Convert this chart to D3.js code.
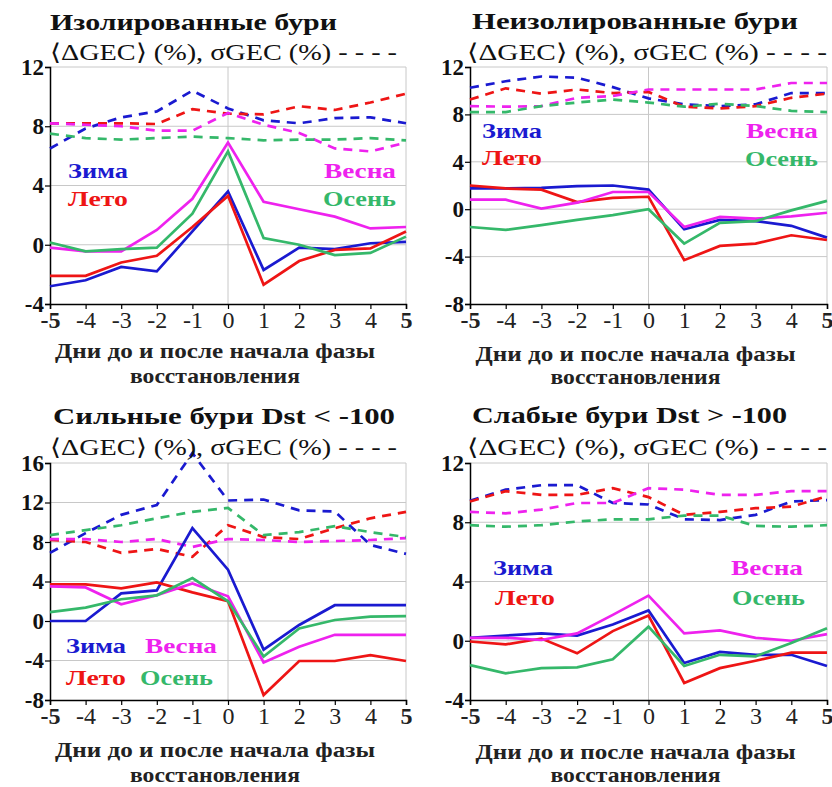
<!DOCTYPE html>
<html><head><meta charset="utf-8">
<script src="https://cdn.jsdelivr.net/npm/d3@7"></script>
</head><body style="margin:0">
<svg id="c" width="832" height="787"></svg>
<script>
const days = [-5,-4,-3,-2,-1,0,1,2,3,4,5];
const seasonNames = ["Зима","Лето","Весна","Осень"];
const seasonColors = ["#1a1ad0","#ee1515","#ee22ee","#35b86a"];
const panelTitles = ["Изолированные бури","Неизолированные бури","Сильные бури Dst < -100","Слабые бури Dst > -100"];
const subtitleText = "\u27E8\u0394GEC\u27E9 (%), \u03C3GEC (%) - - - -";
const xTitle1 = "Дни до и после начала фазы";
const xTitle2 = "восстановления";
const yTicks1 = [-4,0,4,8,12];
const yTicks2 = [-8,-4,0,4,8,12];
const yTicks3 = [-8,-4,0,4,8,12,16];
const yTicks4 = [-4,0,4,8,12];

// order in each: Зима, Лето, Весна, Осень
const isoMean = [
  [-2.8,-2.4,-1.5,-1.8,0.9,3.6,-1.7,-0.2,-0.3,0.1,0.2],
  [-2.1,-2.1,-1.2,-0.75,1.2,3.3,-2.7,-1.1,-0.35,-0.25,0.9],
  [-0.2,-0.45,-0.45,1.0,3.1,6.9,2.9,2.4,1.9,1.1,1.2],
  [0.15,-0.45,-0.3,-0.2,2.1,6.3,0.45,0,-0.7,-0.55,0.55]
];
const isoSigma = [
  [6.5,7.85,8.6,9.0,10.4,9.2,8.4,8.2,8.55,8.6,8.2],
  [8.2,8.2,8.2,8.15,9.15,8.85,8.8,9.35,9.1,9.6,10.2],
  [8.2,8.1,8.0,7.7,7.7,8.9,8.1,7.55,6.5,6.3,6.9],
  [7.5,7.2,7.1,7.2,7.3,7.2,7.05,7.1,7.1,7.2,7.05]
];
const nonIsoMean = [
  [1.75,1.75,1.8,1.95,2.0,1.65,-1.7,-0.9,-1.0,-1.4,-2.4],
  [2.0,1.75,1.65,0.6,0.95,1.05,-4.3,-3.1,-2.9,-2.2,-2.6],
  [0.8,0.8,0.05,0.55,1.45,1.45,-1.5,-0.65,-0.8,-0.6,-0.3],
  [-1.5,-1.75,-1.35,-0.9,-0.5,0,-2.9,-1.15,-1.0,-0.1,0.7]
];
const nonIsoSigma = [
  [10.25,10.8,11.2,11.1,10.3,9.35,8.85,8.7,8.85,9.8,9.8],
  [9.25,10.2,9.75,10.1,9.8,9.9,8.65,8.5,8.7,9.4,9.75],
  [8.7,8.65,8.7,9.4,9.55,10.1,10.1,10.1,10.1,10.65,10.65],
  [8.2,8.2,8.7,9.0,9.25,9.0,8.65,8.9,8.7,8.3,8.2]
];
const strongMean = [
  [0,0,2.8,3.1,9.4,5.2,-2.9,-0.4,1.6,1.6,1.6],
  [3.7,3.7,3.3,3.9,2.9,2.0,-7.5,-4.05,-4.05,-3.45,-4.05],
  [3.5,3.4,1.7,2.6,3.8,2.5,-4.2,-2.6,-1.4,-1.4,-1.4],
  [0.9,1.35,2.2,2.6,4.35,2.0,-3.6,-0.75,0.1,0.45,0.5]
];
const strongSigma = [
  [6.9,8.9,10.75,11.75,17.0,12.2,12.3,11.2,11.1,7.7,6.8],
  [8.2,8.0,6.9,7.3,6.5,9.7,8.5,8.3,9.4,10.4,11.05],
  [8.3,8.3,8.0,8.3,7.5,8.3,8.2,8.0,8.1,8.2,8.4],
  [8.7,9.2,9.7,10.4,11.05,11.45,8.7,9.0,9.6,9.0,8.5]
];
const weakMean = [
  [0.2,0.35,0.5,0.35,1.1,2.05,-1.5,-0.75,-0.95,-0.95,-1.7],
  [-0.05,-0.25,0.15,-0.85,0.65,1.7,-2.85,-1.85,-1.35,-0.8,-0.8],
  [0.2,0.2,0.05,0.5,1.75,3.05,0.5,0.7,0.2,0,0.45],
  [-1.65,-2.2,-1.85,-1.8,-1.25,0.95,-1.7,-0.95,-1.05,-0.15,0.85]
];
const weakSigma = [
  [9.45,10.2,10.5,10.5,9.3,9.2,8.2,8.15,8.5,9.4,9.5],
  [9.4,10.1,9.85,9.85,10.3,9.7,8.5,8.7,8.95,9.05,9.75],
  [8.7,8.6,8.85,9.3,9.3,10.3,10.2,9.85,9.85,10.1,10.1],
  [7.8,7.7,7.8,8.05,8.2,8.2,8.45,8.45,7.75,7.7,7.8]
];

const svg = d3.select("#c");
const F = '"Liberation Serif"';
const legendWidths = [60,60,72,73];

const panels = [
  {title:panelTitles[0], mean:isoMean, sigma:isoSigma, ticks:yTicks1, x0:50, x1:406, yTop:67, yBot:304,
   tX0:50, tY:30, tX1:337, sX0:50, sY:60, sX1:397, axY1:358, axY2:383,
   legend:{left:[68,178,68,206], right:[396,178,396,206]}},
  {title:panelTitles[1], mean:nonIsoMean, sigma:nonIsoSigma, ticks:yTicks2, x0:470, x1:827, yTop:67, yBot:304,
   tX0:472, tY:29, tX1:798, sX0:467, sY:60, sX1:827, axY1:361, axY2:384,
   legend:{left:[482,138,482,165], right:[818,138,818,166]}},
  {title:panelTitles[2], mean:strongMean, sigma:strongSigma, ticks:yTicks3, x0:50, x1:406, yTop:463, yBot:700,
   tX0:53, tY:424, tX1:395, sX0:50, sY:455, sX1:397, axY1:757, axY2:782,
   legend:{custom:[[66,653,0,"start"],[66,685,1,"start"],[145,653,2,"start"],[140,685,3,"start"]]}},
  {title:panelTitles[3], mean:weakMean, sigma:weakSigma, ticks:yTicks4, x0:470, x1:827, yTop:463, yBot:700,
   tX0:472, tY:423, tX1:787, sX0:467, sY:455, sX1:827, axY1:759, axY2:782,
   legend:{left:[493,575,495,605], right:[803,575,805,605]}}
];

function tx(sel, size, bold) {
  return sel.style("font-family", F).style("font-size", size + "px").style("font-weight", bold ? "bold" : "normal");
}

panels.forEach(p => {
  const g = svg.append("g");
  const x = d3.scaleLinear().domain([-5,5]).range([p.x0,p.x1]);
  const yd = d3.extent(p.ticks);
  const y = d3.scaleLinear().domain(yd).range([p.yBot,p.yTop]);

  // grid
  g.selectAll(".hg").data(p.ticks.filter(t=>t!==yd[0])).enter().append("line")
    .attr("x1",p.x0).attr("x2",p.x1).attr("y1",d=>y(d)).attr("y2",d=>y(d))
    .attr("stroke","#c8c8c8").attr("stroke-width",1);
  g.append("line").attr("x1",x(0)).attr("x2",x(0)).attr("y1",p.yTop).attr("y2",p.yBot)
    .attr("stroke","#c8c8c8").attr("stroke-width",1);
  g.append("line").attr("x1",p.x1).attr("x2",p.x1).attr("y1",p.yTop).attr("y2",p.yBot)
    .attr("stroke","#c8c8c8").attr("stroke-width",1);

  // axes
  const ya = g.append("g").attr("transform",`translate(${p.x0},0)`)
    .call(d3.axisLeft(y).tickValues(p.ticks).tickSize(5).tickFormat(d3.format("d")));
  ya.attr("font-family",null).attr("font-size",null);
  ya.select(".domain").attr("stroke","#000").attr("stroke-width",1.5);
  ya.selectAll(".tick line").attr("stroke","#000").attr("stroke-width",1.2);
  tx(ya.selectAll(".tick text"), 23, true)
    .attr("fill","#111").attr("x",-6).text(d=>d<0?"-"+Math.abs(d):String(d));
  const xa = g.append("g").attr("transform",`translate(0,${p.yBot})`)
    .call(d3.axisBottom(x).tickValues(days).tickSize(5).tickFormat(d3.format("d")));
  xa.attr("font-family",null).attr("font-size",null);
  xa.select(".domain").attr("stroke","#000").attr("stroke-width",1.5);
  xa.selectAll(".tick line").attr("stroke","#000").attr("stroke-width",1.2);
  xa.selectAll(".tick text").each(function(d){ tx(d3.select(this), 24, Math.abs(d)===5); })
    .attr("fill","#222").attr("y",7)
    .text(d=>d<0?"-"+Math.abs(d):String(d));

  // lines
  const line = d3.line().x((d,i)=>x(days[i])).y(d=>y(d));
  p.sigma.forEach((s,k)=>{
    g.append("path").datum(s).attr("d",line).attr("fill","none")
      .attr("stroke",seasonColors[k]).attr("stroke-width",2.7).attr("stroke-dasharray","9,7");
  });
  p.mean.forEach((s,k)=>{
    g.append("path").datum(s).attr("d",line).attr("fill","none")
      .attr("stroke",seasonColors[k]).attr("stroke-width",2.7).attr("stroke-linejoin","miter");
  });

  // titles
  tx(g.append("text"), 24, true).attr("x",p.tX0).attr("y",p.tY)
    .attr("fill","#111").attr("textLength",p.tX1-p.tX0).attr("lengthAdjust","spacingAndGlyphs")
    .text(p.title);
  tx(g.append("text"), 23, false).attr("x",p.sX0).attr("y",p.sY)
    .attr("fill","#111").attr("textLength",p.sX1-p.sX0).attr("lengthAdjust","spacingAndGlyphs")
    .text(subtitleText);

  // x axis title
  const cx = (p.x0+p.x1)/2 - 13;
  tx(g.append("text"), 21, true).attr("x",cx-160).attr("y",p.axY1)
    .attr("fill","#222").attr("textLength",320).attr("lengthAdjust","spacingAndGlyphs")
    .text(xTitle1);
  tx(g.append("text"), 21, true).attr("x",cx-85).attr("y",p.axY2)
    .attr("fill","#222").attr("textLength",170).attr("lengthAdjust","spacingAndGlyphs")
    .text(xTitle2);

  // legend
  const lg = (xx,yy,k,anchor)=> {
    const x0 = anchor==="end" ? xx - legendWidths[k] : xx;
    return tx(g.append("text"), 22, true).attr("x",x0).attr("y",yy)
      .attr("textLength",legendWidths[k]).attr("lengthAdjust","spacingAndGlyphs")
      .attr("fill",seasonColors[k]).text(seasonNames[k]);
  };
  if (p.legend.custom) {
    p.legend.custom.forEach(c=>lg(c[0],c[1],c[2],c[3]));
  } else {
    lg(p.legend.left[0],p.legend.left[1],0,"start");
    lg(p.legend.left[2],p.legend.left[3],1,"start");
    lg(p.legend.right[0],p.legend.right[1],2,"end");
    lg(p.legend.right[2],p.legend.right[3],3,"end");
  }
});
</script>
</body></html>
